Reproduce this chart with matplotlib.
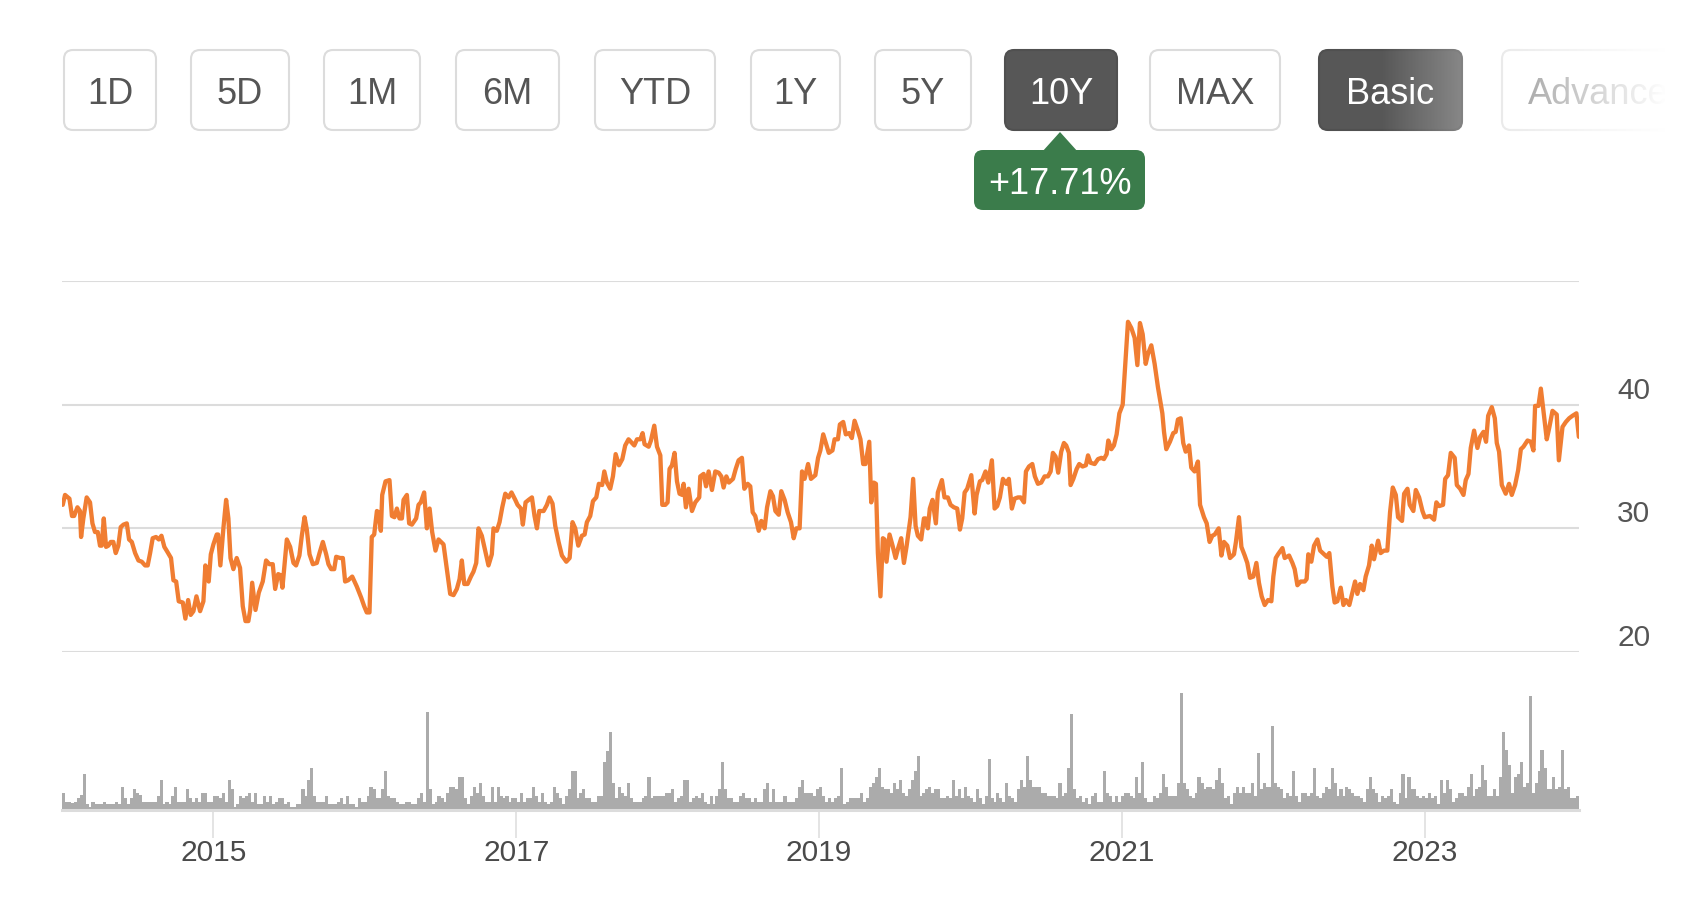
import matplotlib
matplotlib.use("Agg")
import matplotlib.pyplot as plt
import numpy as np
from matplotlib.patches import FancyBboxPatch, Polygon
from matplotlib import transforms

plt.rcParams['font.family'] = ['Liberation Sans', 'DejaVu Sans']

# weekly closing price (x in fractional years)
years = [
    2014.005, 2014.020, 2014.049, 2014.066, 2014.080, 2014.102, 2014.119, 2014.126, 2014.141, 2014.163,
    2014.185, 2014.201, 2014.218, 2014.236, 2014.251, 2014.262, 2014.276, 2014.291, 2014.306, 2014.322,
    2014.339, 2014.355, 2014.372, 2014.388, 2014.406, 2014.428, 2014.443, 2014.461, 2014.483, 2014.505,
    2014.527, 2014.549, 2014.566, 2014.582, 2014.599, 2014.621, 2014.639, 2014.657, 2014.676, 2014.696,
    2014.720, 2014.736, 2014.754, 2014.771, 2014.798, 2014.815, 2014.833, 2014.850, 2014.868, 2014.888,
    2014.912, 2014.934, 2014.947, 2014.969, 2014.983, 2015.000, 2015.022, 2015.031, 2015.046, 2015.066,
    2015.084, 2015.099, 2015.113, 2015.132, 2015.154, 2015.176, 2015.194, 2015.212, 2015.231, 2015.243,
    2015.256, 2015.278, 2015.300, 2015.326, 2015.348, 2015.370, 2015.392, 2015.408, 2015.428, 2015.445,
    2015.456, 2015.467, 2015.485, 2015.507, 2015.529, 2015.546, 2015.568, 2015.584, 2015.602, 2015.617,
    2015.635, 2015.657, 2015.683, 2015.701, 2015.723, 2015.745, 2015.760, 2015.778, 2015.798, 2015.811,
    2015.837, 2015.855, 2015.870, 2015.890, 2015.917, 2015.947, 2015.976, 2015.996, 2016.013, 2016.031,
    2016.046, 2016.062, 2016.080, 2016.091, 2016.106, 2016.115, 2016.137, 2016.163, 2016.179, 2016.196,
    2016.212, 2016.229, 2016.245, 2016.256, 2016.278, 2016.293, 2016.311, 2016.339, 2016.355, 2016.370,
    2016.392, 2016.410, 2016.428, 2016.445, 2016.467, 2016.487,
    2016.520, 2016.542, 2016.564, 2016.586, 2016.608, 2016.626, 2016.641, 2016.657, 2016.679, 2016.701,
    2016.718, 2016.736, 2016.751, 2016.773, 2016.795, 2016.817, 2016.839, 2016.850, 2016.872, 2016.890,
    2016.908, 2016.928, 2016.950, 2016.969, 2016.994, 2017.009, 2017.031, 2017.044, 2017.062, 2017.082,
    2017.104, 2017.121, 2017.137, 2017.152, 2017.181, 2017.203, 2017.220, 2017.240, 2017.258, 2017.280,
    2017.302, 2017.331, 2017.353, 2017.372, 2017.390, 2017.410, 2017.434, 2017.452, 2017.467, 2017.489,
    2017.507, 2017.529, 2017.546, 2017.568, 2017.582, 2017.599, 2017.621, 2017.639, 2017.657, 2017.679,
    2017.701, 2017.720, 2017.742, 2017.765, 2017.780, 2017.798, 2017.820, 2017.835, 2017.848, 2017.875,
    2017.890, 2017.912, 2017.930, 2017.952, 2017.965, 2017.985, 2018.000, 2018.013, 2018.029, 2018.046,
    2018.062, 2018.079, 2018.097, 2018.106, 2018.121, 2018.139, 2018.161, 2018.183, 2018.209, 2018.216,
    2018.238, 2018.254, 2018.271, 2018.293, 2018.315, 2018.337, 2018.355, 2018.370, 2018.388, 2018.405,
    2018.432, 2018.450, 2018.469, 2018.491, 2018.507, 2018.529, 2018.546, 2018.562, 2018.579, 2018.602,
    2018.619, 2018.641, 2018.657, 2018.679, 2018.696, 2018.712, 2018.734, 2018.751, 2018.773, 2018.793,
    2018.815, 2018.833, 2018.850, 2018.872, 2018.888, 2018.905, 2018.928, 2018.947, 2018.976, 2018.994,
    2019.009,
    2019.028, 2019.050, 2019.065, 2019.089, 2019.103, 2019.125, 2019.138, 2019.160, 2019.177, 2019.199,
    2019.217, 2019.235, 2019.257, 2019.274, 2019.292, 2019.307, 2019.332, 2019.345, 2019.362, 2019.376,
    2019.389, 2019.406, 2019.422, 2019.433, 2019.446, 2019.466, 2019.486, 2019.506, 2019.523, 2019.543,
    2019.561, 2019.578, 2019.605, 2019.622, 2019.638, 2019.653, 2019.675, 2019.693, 2019.704, 2019.719,
    2019.732, 2019.750, 2019.772, 2019.785, 2019.812, 2019.829, 2019.851, 2019.869, 2019.891, 2019.913,
    2019.931, 2019.946, 2019.962, 2019.979, 2020.006, 2020.028, 2020.041, 2020.063, 2020.078, 2020.100,
    2020.118, 2020.142, 2020.160, 2020.177, 2020.195, 2020.215, 2020.237, 2020.254, 2020.274, 2020.292,
    2020.314, 2020.332, 2020.354, 2020.367, 2020.387, 2020.409, 2020.426, 2020.446, 2020.468, 2020.490,
    2020.512, 2020.530, 2020.545, 2020.563, 2020.580, 2020.600, 2020.618, 2020.633, 2020.651, 2020.662,
    2020.680, 2020.702, 2020.719, 2020.741, 2020.763, 2020.777, 2020.794, 2020.821, 2020.843, 2020.865,
    2020.882, 2020.900, 2020.911, 2020.931, 2020.948, 2020.966, 2020.984, 2021.006, 2021.019, 2021.041,
    2021.063, 2021.085, 2021.103, 2021.120, 2021.138, 2021.158, 2021.173, 2021.195, 2021.217, 2021.239,
    2021.268, 2021.279, 2021.294, 2021.318, 2021.340, 2021.356, 2021.371, 2021.389, 2021.406, 2021.422,
    2021.444, 2021.459, 2021.481, 2021.503, 2021.517,
    2021.543, 2021.561, 2021.580, 2021.598, 2021.614, 2021.640, 2021.658, 2021.675, 2021.697, 2021.715,
    2021.741, 2021.754, 2021.774, 2021.790, 2021.812, 2021.829, 2021.847, 2021.869, 2021.889, 2021.906,
    2021.924, 2021.944, 2021.966, 2021.988, 2022.001, 2022.017, 2022.032, 2022.061, 2022.076, 2022.105,
    2022.127, 2022.142, 2022.160, 2022.182, 2022.208, 2022.221, 2022.232, 2022.252, 2022.270, 2022.292,
    2022.310, 2022.336, 2022.354, 2022.371, 2022.391, 2022.406, 2022.424, 2022.446, 2022.464, 2022.481,
    2022.503, 2022.523, 2022.541, 2022.556, 2022.574, 2022.596, 2022.611, 2022.633, 2022.651, 2022.666,
    2022.693, 2022.710, 2022.732, 2022.754, 2022.772, 2022.790, 2022.810, 2022.825, 2022.851, 2022.865,
    2022.887, 2022.902, 2022.926, 2022.942, 2022.964, 2022.986, 2023.001, 2023.036, 2023.063, 2023.078,
    2023.096, 2023.122, 2023.136, 2023.155, 2023.173, 2023.199, 2023.213, 2023.235, 2023.257, 2023.272,
    2023.290, 2023.305, 2023.327, 2023.349, 2023.367, 2023.389, 2023.406, 2023.420, 2023.444, 2023.464,
    2023.477, 2023.492, 2023.510, 2023.536, 2023.558, 2023.576, 2023.598, 2023.618, 2023.636, 2023.653,
    2023.680, 2023.702, 2023.719, 2023.730, 2023.752, 2023.768, 2023.785, 2023.807, 2023.823, 2023.845,
    2023.873, 2023.887, 2023.911, 2023.933, 2023.955, 2023.977, 2024.003, 2024.019,
]

price = [
    31.9, 32.7, 32.4, 31.0, 31.0, 31.7, 31.4, 29.3, 30.8, 32.5,
    32.1, 30.4, 29.7, 29.7, 28.6, 28.6, 30.8, 28.5, 28.6, 28.9,
    28.9, 28.0, 28.6, 30.1, 30.3, 30.4, 29.1, 28.9, 28.0, 27.4,
    27.3, 27.0, 27.0, 28.0, 29.2, 29.3, 29.1, 29.4, 28.5, 28.1,
    27.6, 25.8, 25.7, 24.1, 24.0, 22.7, 24.2, 23.0, 23.3, 24.5,
    23.3, 24.1, 27.0, 25.7, 27.9, 28.7, 29.5, 29.5, 27.0, 30.0,
    32.3, 30.8, 27.6, 26.7, 27.6, 26.8, 23.7, 22.5, 22.5, 23.4,
    25.6, 23.4, 24.8, 25.7, 27.4, 27.1, 27.1, 25.1, 26.3, 26.2,
    25.2, 26.7, 29.1, 28.5, 27.2, 27.0, 27.8, 29.4, 30.9, 29.9,
    27.9, 27.1, 27.2, 28.0, 28.9, 27.9, 27.1, 26.7, 26.7, 27.7,
    27.6, 27.6, 25.7, 25.8, 26.1, 25.3, 24.4, 23.7, 23.2, 23.2,
    29.3, 29.5, 31.4, 31.3, 29.8, 32.7, 33.8, 33.9, 31.0, 30.9,
    31.6, 30.8, 30.8, 32.3, 32.7, 30.4, 30.3, 30.8, 31.9, 32.1,
    32.9, 30.0, 31.6, 29.7, 28.2, 29.1,
    28.7, 26.7, 24.7, 24.6, 25.1, 25.9, 27.4, 25.5, 25.5, 26.1,
    26.5, 27.2, 30.0, 29.4, 28.2, 27.0, 27.9, 30.0, 29.8, 30.5,
    31.7, 32.8, 32.5, 32.9, 32.3, 31.9, 31.6, 30.3, 32.1, 32.3,
    32.5, 31.0, 30.0, 31.4, 31.4, 31.9, 32.5, 32.0, 30.2, 28.9,
    27.8, 27.3, 27.6, 30.5, 30.0, 28.6, 29.4, 29.5, 30.5, 31.0,
    32.2, 32.5, 33.6, 33.5, 34.6, 33.7, 33.2, 34.2, 36.0, 35.1,
    35.6, 36.7, 37.2, 36.9, 36.7, 37.2, 37.2, 37.7, 36.8, 36.6,
    37.1, 38.3, 36.6, 35.9, 31.9, 31.9, 32.1, 34.8, 35.1, 36.1,
    33.8, 32.8, 32.7, 33.6, 31.7, 33.2, 31.4, 32.1, 32.5, 34.2,
    34.4, 33.4, 34.6, 33.1, 34.6, 34.5, 34.2, 33.3, 34.2, 33.7,
    34.0, 34.8, 35.5, 35.7, 33.2, 33.6, 33.4, 31.3, 31.0, 29.8,
    30.6, 30.0, 31.7, 33.0, 32.6, 31.4, 31.1, 33.0, 32.3, 31.3,
    30.5, 29.2, 30.0, 30.0, 34.6, 34.0, 35.2, 34.0, 34.3, 35.7,
    36.3,
    37.6, 36.7, 36.1, 36.3, 37.2, 37.2, 38.4, 38.6, 37.6, 37.7,
    37.3, 38.7, 37.9, 37.2, 35.2, 35.2, 37.0, 32.1, 33.7, 33.6,
    28.0, 24.5, 29.2, 29.1, 27.3, 29.5, 28.6, 27.6, 28.4, 29.2,
    27.2, 28.5, 30.9, 34.0, 30.2, 29.4, 29.1, 30.8, 30.8, 30.0,
    31.6, 32.3, 30.4, 32.9, 33.9, 32.5, 32.5, 31.9, 31.7, 31.6,
    29.9, 30.8, 32.9, 33.2, 34.3, 31.2, 32.7, 33.8, 33.9, 34.6,
    33.7, 35.5, 31.6, 31.8, 32.5, 34.0, 33.6, 34.0, 31.6, 32.4,
    32.5, 32.5, 32.1, 34.6, 35.0, 35.2, 34.2, 33.6, 33.7, 34.2,
    34.2, 34.6, 36.1, 35.8, 34.5, 36.2, 36.9, 36.7, 36.1, 33.5,
    34.0, 34.8, 35.2, 35.0, 35.1, 35.9, 35.3, 35.2, 35.6, 35.7,
    35.6, 36.0, 37.1, 36.4, 36.7, 37.6, 39.3, 40.0, 42.5, 46.7,
    46.2, 45.4, 43.2, 46.6, 45.7, 43.3, 44.1, 44.8, 43.3, 41.4,
    39.3, 37.8, 36.4, 37.0, 37.7, 37.8, 38.8, 38.9, 36.9, 36.2,
    36.7, 34.9, 34.6, 35.4, 31.9,
    30.9, 30.4, 28.9, 29.4, 29.5, 30.0, 27.8, 28.9, 28.6, 27.6,
    27.9, 28.9, 30.9, 28.5, 27.8, 27.2, 26.0, 26.1, 27.2, 25.6,
    24.5, 23.8, 24.2, 24.1, 26.1, 27.6, 27.9, 28.4, 27.6, 27.8,
    27.2, 26.7, 25.4, 25.7, 25.7, 25.9, 27.9, 27.3, 28.6, 29.1,
    28.2, 27.9, 27.7, 28.0, 25.3, 24.0, 24.1, 25.2, 23.8, 24.2,
    23.8, 24.8, 25.7, 24.7, 25.5, 25.0, 26.1, 27.0, 28.6, 27.5,
    29.0, 28.0, 28.2, 28.2, 31.3, 33.3, 32.7, 30.9, 30.6, 32.8,
    33.2, 31.9, 31.4, 33.1, 32.5, 31.4, 30.9, 31.0, 30.7, 32.1,
    31.8, 31.9, 34.0, 34.3, 36.1, 35.7, 33.5, 33.2, 32.7, 33.9,
    34.4, 36.5, 37.9, 36.5, 37.4, 37.8, 37.0, 39.1, 39.8, 38.9,
    36.9, 36.2, 33.5, 32.8, 33.6, 32.7, 33.5, 34.7, 36.4, 36.6,
    37.1, 37.0, 36.3, 39.9, 39.9, 41.3, 39.5, 37.2, 38.1, 39.5,
    39.2, 35.5, 38.2, 38.6, 38.9, 39.1, 39.3, 37.4,
]

# weekly volume (relative units), 2014 -> 2024
volume = [
    17, 8, 8, 7, 8, 12, 15, 36, 6, 3, 8, 6, 6, 6, 8, 6, 6, 6, 8, 6,
    23, 12, 6, 12, 21, 17, 15, 8, 8, 8, 8, 8, 14, 30, 6, 8, 6, 14, 23, 8,
    8, 8, 21, 12, 8, 12, 8, 17, 17, 8, 8, 14, 14, 12, 17, 8, 30, 21, 3, 6,
    14, 12, 14, 17, 8, 17, 6, 6, 14, 8, 14, 6, 8, 12, 12, 6, 8, 3, 3, 6,
    6, 21, 14, 30, 42, 14, 8, 8, 8, 14, 6, 6, 6, 8, 12, 6, 14, 6, 6, 3,
    12, 8, 8, 14, 23, 21, 12, 12, 21, 39, 14, 12, 12, 8, 6, 6, 8, 8, 6, 6,
    12, 17, 8, 98, 21, 6, 8, 14, 12, 8, 17, 23, 23, 21, 33, 33, 12, 6, 14, 23,
    17, 27, 14, 8, 8, 23, 8, 23, 14, 12, 14, 8, 12, 12, 8, 17, 8, 12, 12, 23,
    14, 8, 17, 8, 6, 8, 23, 17, 12, 6, 14, 21, 39, 39, 12, 17, 21, 12, 12, 8,
    8, 14, 14, 48, 59, 78, 27, 12, 23, 17, 14, 27, 12, 8, 8, 8, 12, 14, 33, 12,
    14, 14, 14, 14, 17, 17, 21, 8, 12, 14, 30, 30, 8, 12, 14, 12, 17, 8, 6, 14,
    6, 14, 21, 48, 21, 12, 12, 8, 8, 14, 17, 12, 12, 8, 12, 8, 8, 21, 27, 8,
    21, 8, 8, 8, 14, 8, 8, 8, 12, 23, 30, 17, 17, 17, 14,
    21, 23, 14, 8, 12, 8, 12, 14, 42,
    6, 8, 12, 12, 12, 12, 17, 8, 12, 23, 27, 33, 42, 23, 21, 21, 17, 27, 21, 30,
    17, 14, 21, 30, 39, 54, 14, 17, 21, 23, 17, 21, 21, 12, 12, 14, 12, 30, 14, 21,
    12, 23, 14, 12, 8, 21, 12, 6, 14, 51, 12, 8, 17, 12, 8, 27, 14, 12, 8, 21,
    30, 23, 54, 30, 23, 23, 23, 17, 17, 14, 14, 14, 12, 27, 14, 17, 42, 96, 21, 12,
    14, 8, 12, 6, 14, 17, 8, 8, 39, 17, 14, 8, 14, 8, 14, 17, 17, 14, 12, 33,
    17, 48, 12, 8, 8, 14, 12, 17, 36, 23, 14, 14, 14, 27, 117, 27, 21, 14, 12, 17,
    33, 27, 21, 23, 23, 21, 30, 42, 27, 12, 14, 6, 17, 23, 17, 23, 17, 17, 27, 14,
    57, 21, 27, 23, 23, 84, 27, 23, 21, 12, 17, 14, 39, 14, 8, 17, 17, 14, 17, 42,
    14, 12, 17, 23, 21, 42, 27, 14, 21, 14, 23, 21, 17, 14, 14, 12, 8, 21, 33, 21,
    17, 8, 14, 12, 14, 21, 8, 6, 17, 36, 12, 33, 21, 21, 14, 12, 14, 12, 17, 12,
    14, 6, 30, 17, 30, 21, 8, 12, 17, 17, 14, 23, 36, 14, 21, 23, 45, 30, 14, 14,
    21, 14, 33, 78, 60, 45, 17, 33, 36, 48, 23, 27, 114, 17, 27, 39, 60, 42, 21, 21,
    33, 21, 23, 60, 21, 23, 12, 12, 14,
]

x_start, x_end = 2014.0, 2024.02
tick_years = [2015, 2017, 2019, 2021, 2023]
grid_levels = [20, 30, 40, 50]
price_labels = [20, 30, 40]

buttons = ['1D', '5D', '1M', '6M', 'YTD', '1Y', '5Y', '10Y', 'MAX', 'Basic', 'Advanced']
active = ['10Y', 'Basic']
change_text = '+17.71%'

# layout in pixels
W, H = 1704, 898
btn_spans = [(63, 157), (190, 290), (323, 421), (455, 560), (594, 716), (750, 841),
             (874, 972), (1004, 1118), (1149, 1281), (1318, 1463), (1501, 1716)]

orange = '#f07d32'
grid_c = '#dcdcdc'
text_c = '#555555'


def frac(x0, y_top, x1, y_bot):
    return [x0 / W, 1 - y_bot / H, (x1 - x0) / W, (y_bot - y_top) / H]


fig = plt.figure(figsize=(W / 100, H / 100), dpi=100)

# price panel
ax = fig.add_axes(frac(62, 281, 1579, 652))
ax.set_xlim(x_start, x_end)
ax.set_ylim(20, 50)
ax.axis('off')
for g in grid_levels:
    ax.axhline(g, color=grid_c, lw=1.5, zorder=1)
ax.plot(years, price, color=orange, lw=3.1, solid_joinstyle='round',
        solid_capstyle='round', zorder=3)
lab_tr = transforms.offset_copy(ax.get_yaxis_transform(), fig=fig, x=38, y=6, units='dots')
for v in price_labels:
    ax.text(1.0, v, str(v), transform=lab_tr, ha='left', va='baseline',
            fontsize=21.5, color=text_c)

# volume panel
axv = fig.add_axes(frac(62, 690, 1579, 810))
axv.set_xlim(x_start, x_end)
axv.set_ylim(0, 120)
n = len(volume)
step = (x_end - x_start) / n
xs = x_start + (np.arange(n) + 0.5) * step
axv.bar(xs, volume, width=step * 1.05, color='#ababab', linewidth=0)
for s in ['top', 'left', 'right']:
    axv.spines[s].set_visible(False)
axv.spines['bottom'].set_color(grid_c)
axv.spines['bottom'].set_linewidth(2.2)
axv.set_yticks([])
axv.set_xticks(tick_years)
axv.set_xticklabels([str(t) for t in tick_years])
axv.tick_params(axis='x', length=20, width=1.1, color=grid_c, pad=1,
                labelsize=21.5, labelcolor='#4a4a4a')

# range buttons
ui = fig.add_axes([0, 0, 1, 1])
ui.set_zorder(5)
for lab, (x0, x1) in zip(buttons, btn_spans):
    on = lab in active
    box = FancyBboxPatch((x0 + 1, 50), x1 - x0 - 2, 80,
                         boxstyle='round,pad=0,rounding_size=9',
                         fc='#575757' if on else 'white',
                         ec='#505050' if on else grid_c, lw=1.5)
    ui.add_patch(box)
    ui.text((x0 + x1) / 2, 94, lab, ha='center', va='center', fontsize=26,
            color='white' if on else text_c)

# fade-out on the right of the button row
ramp = np.clip((np.linspace(1380, W, 400) - 1380) / (1665 - 1380), 0, 1)
fade = np.ones((1, 400, 4))
fade[0, :, 3] = ramp
ui.imshow(fade, extent=(1380, W, 140, 40), aspect='auto', interpolation='bilinear', zorder=10)

# change badge under the active range
ui.add_patch(Polygon([(1042, 152), (1060, 132), (1078, 152)], closed=True,
                     fc='#3b7c4b', ec='none'))
ui.add_patch(FancyBboxPatch((974, 150), 171, 60, boxstyle='round,pad=0,rounding_size=9',
                            fc='#3b7c4b', ec='none'))
ui.text(1059.5, 184, change_text, ha='center', va='center', fontsize=26, color='white')

ui.set_xlim(0, W)
ui.set_ylim(H, 0)
ui.axis('off')

fig.savefig('out.png', dpi=100)
